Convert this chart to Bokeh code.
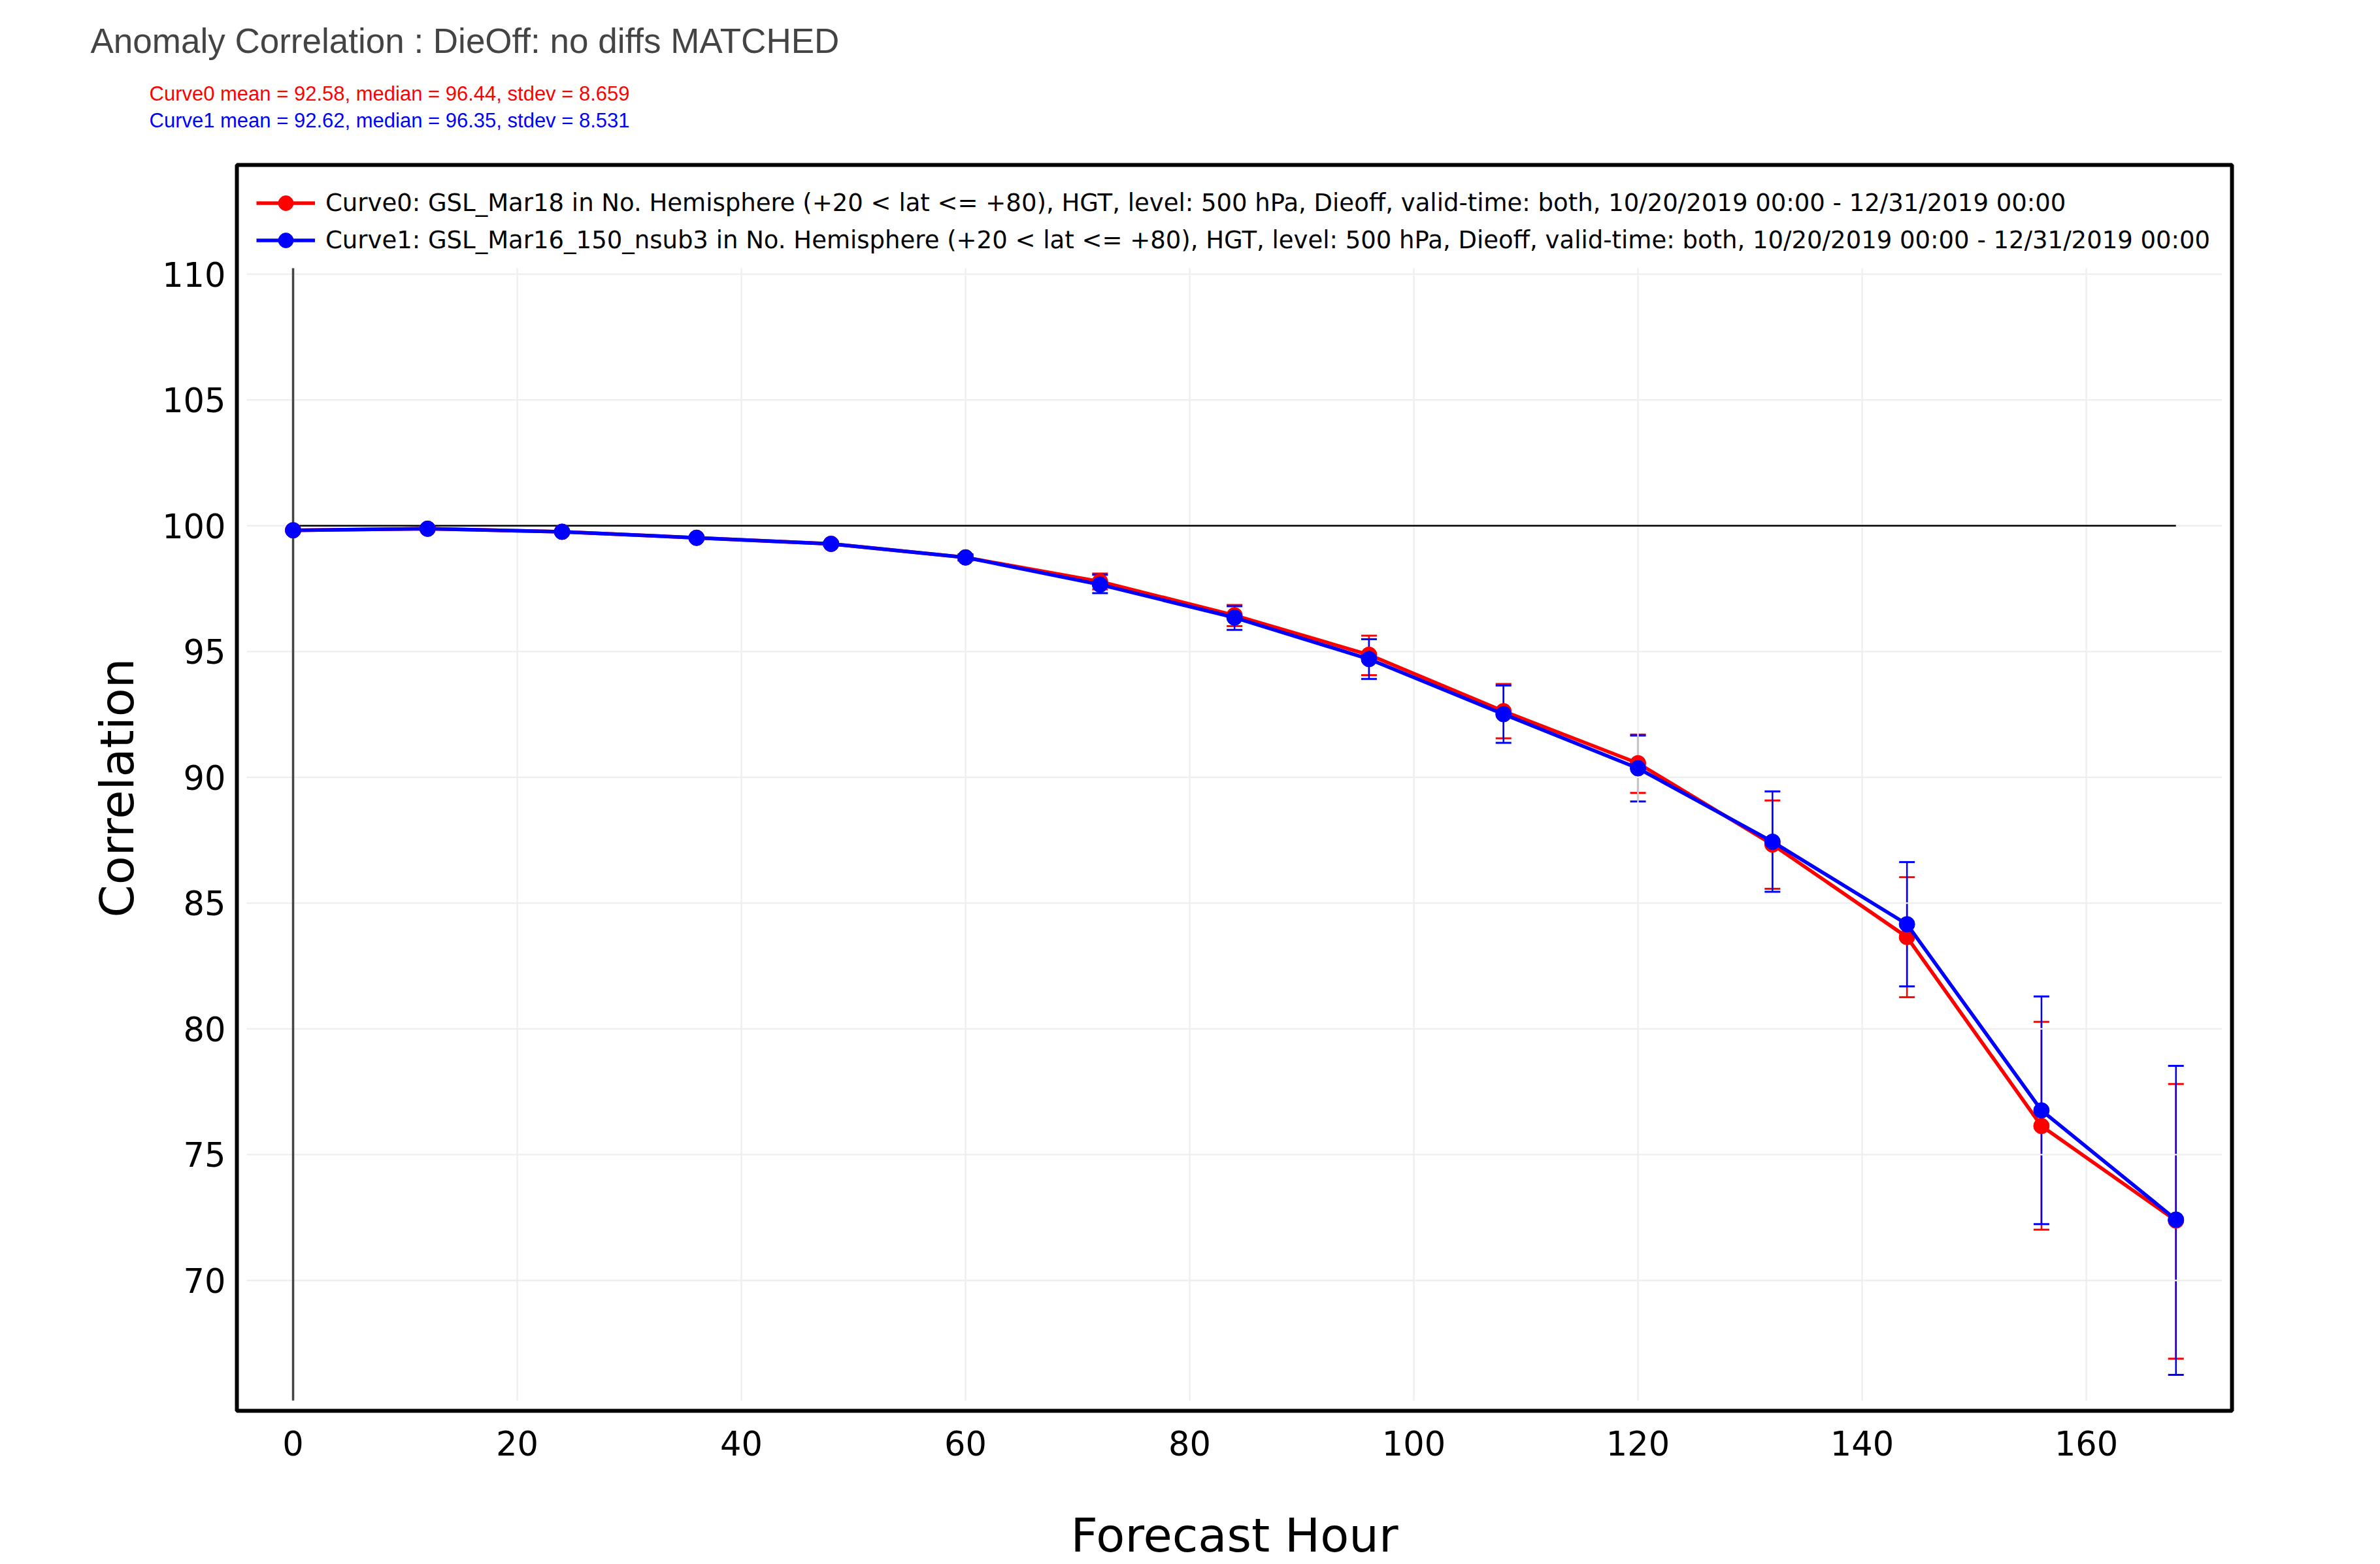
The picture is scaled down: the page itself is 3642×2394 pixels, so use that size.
from bokeh.plotting import figure
from bokeh.models import (ColumnDataSource, Whisker, TeeHead, Legend, LegendItem,
                          Title, FixedTicker, Range1d)
from bokeh.embed import file_html
from bokeh.resources import INLINE

# ---------------- data ----------------
TITLE = "Anomaly Correlation : DieOff: no diffs MATCHED"
STATS = ["Curve0 mean = 92.58, median = 96.44, stdev = 8.659",
         "Curve1 mean = 92.62, median = 96.35, stdev = 8.531"]
LABELS = ["Curve0: GSL_Mar18 in No. Hemisphere (+20 < lat <= +80), HGT, level: 500 hPa, Dieoff, valid-time: both, 10/20/2019 00:00 - 12/31/2019 00:00",
          "Curve1: GSL_Mar16_150_nsub3 in No. Hemisphere (+20 < lat <= +80), HGT, level: 500 hPa, Dieoff, valid-time: both, 10/20/2019 00:00 - 12/31/2019 00:00"]
X_TITLE = "Forecast Hour"
Y_TITLE = "Correlation"

hours = [0, 12, 24, 36, 48, 60, 72, 84, 96, 108, 120, 132, 144, 156, 168]

curve0 = [99.82, 99.88, 99.76, 99.52, 99.28, 98.74, 97.78, 96.44, 94.87, 92.63, 90.56, 87.33, 83.65, 76.14, 72.38]
curve0_lo = [99.79, 99.85, 99.72, 99.46, 99.20, 98.62, 97.47, 96.01, 94.06, 91.55, 89.38, 85.57, 81.26, 72.02, 66.89]
curve0_hi = [99.85, 99.91, 99.80, 99.58, 99.36, 98.86, 98.10, 96.85, 95.63, 93.71, 91.70, 89.08, 86.03, 80.28, 77.81]

curve1 = [99.82, 99.88, 99.76, 99.52, 99.28, 98.74, 97.66, 96.35, 94.70, 92.51, 90.36, 87.44, 84.16, 76.76, 72.42]
curve1_lo = [99.79, 99.85, 99.72, 99.46, 99.20, 98.62, 97.32, 95.86, 93.91, 91.37, 89.04, 85.45, 81.69, 72.24, 66.25]
curve1_hi = [99.85, 99.91, 99.80, 99.58, 99.36, 98.86, 98.05, 96.80, 95.49, 93.65, 91.66, 89.44, 86.63, 81.29, 78.53]

ideal_x = [0, 168]
ideal_y = [100, 100]

x_ticks = [0, 20, 40, 60, 80, 100, 120, 140, 160]
y_ticks = [70, 75, 80, 85, 90, 95, 100, 105, 110]

# ---------------- layout constants ----------------
W, H = 3642, 2394
FL, FR, FT, FB = 362, 3415, 246, 2166       # black frame (screen px)
X_RANGE = (-5.015, 173.0)
Y_RANGE = (64.82, 114.34)
PX = (-4.14, 172.1)                          # plotting area (grid extent)
PY = (65.23, 110.24)

RED, BLUE = "#ff0000", "#0000ff"
VFONT = "DejaVu Sans"
AFONT = "Liberation Sans"

p = figure(width=W, height=H, output_backend="svg", toolbar_location=None,
           x_range=Range1d(*X_RANGE), y_range=Range1d(*Y_RANGE),
           min_border_left=FL, min_border_right=W - FR,
           min_border_top=FT, min_border_bottom=H - FB)
p.title = None
p.background_fill_color = "white"
p.border_fill_color = "white"
p.outline_line_color = "black"
p.outline_line_width = 6
p.xgrid.visible = False
p.ygrid.visible = False

# axes
for ax in (p.xaxis[0], p.yaxis[0]):
    ax.axis_line_color = None
    ax.major_tick_line_color = None
    ax.minor_tick_line_color = None
    ax.major_tick_out = 0
    ax.major_tick_in = 0
    ax.major_label_text_font = VFONT
    ax.major_label_text_font_size = "51px"
    ax.major_label_text_color = "black"
    ax.axis_label_text_font = VFONT
    ax.axis_label_text_font_size = "72px"
    ax.axis_label_text_font_style = "normal"
    ax.axis_label_text_color = "black"
p.xaxis.ticker = FixedTicker(ticks=x_ticks)
p.yaxis.ticker = FixedTicker(ticks=y_ticks)
p.xaxis.axis_label = X_TITLE
p.yaxis.axis_label = Y_TITLE
p.xaxis.major_label_standoff = 30
p.yaxis.major_label_standoff = 17
p.xaxis.axis_label_standoff = 77
p.yaxis.axis_label_standoff = 24

# grid lines restricted to the plotting area
p.segment(x0=x_ticks, y0=[PY[0]] * len(x_ticks), x1=x_ticks, y1=[PY[1]] * len(x_ticks),
          line_color="#eeeeee", line_width=2.3)
p.segment(x0=[PX[0]] * len(y_ticks), y0=y_ticks, x1=[PX[1]] * len(y_ticks), y1=y_ticks,
          line_color="#eeeeee", line_width=2.3)
# x zero line
p.segment(x0=[0], y0=[PY[0]], x1=[0], y1=[PY[1]], line_color="#444444", line_width=3.5)
# ideal line
p.line(ideal_x, ideal_y, line_color="black", line_width=2.5)

renderers = []
for ys, lo, hi, col in ((curve0, curve0_lo, curve0_hi, RED), (curve1, curve1_lo, curve1_hi, BLUE)):
    src = ColumnDataSource(dict(x=hours, y=ys, lo=lo, hi=hi))
    w = Whisker(base="x", lower="lo", upper="hi", source=src,
                line_color=col, line_width=2.5,
                upper_head=TeeHead(size=24, line_color=col, line_width=3),
                lower_head=TeeHead(size=24, line_color=col, line_width=3))
    p.add_layout(w)
    rl = p.line("x", "y", source=src, line_color=col, line_width=5.5)
    rp = p.scatter("x", "y", source=src, size=24, fill_color=col, line_color=col)
    renderers.append((rl, rp))

legend = Legend(items=[LegendItem(label=LABELS[i], renderers=list(renderers[i])) for i in range(2)],
                location="top_left", margin=30, padding=0, spacing=0,
                glyph_width=90, glyph_height=57, label_height=57, label_standoff=16,
                label_text_font=VFONT, label_text_font_size="37px", label_text_color="black",
                background_fill_alpha=0, border_line_color=None)
p.add_layout(legend)

# white-on-white spacer between the frame and the stats lines
p.add_layout(Title(text="|", align="left", standoff=12, text_font=AFONT,
                   text_font_size="31px", text_color="#ffffff"), "above")

# titles above the frame (first added sits nearest the frame)
p.add_layout(Title(text=STATS[1], align="left", offset=228 - FL, standoff=4,
                   text_font=AFONT, text_font_size="31px", text_font_style="normal",
                   text_color=BLUE), "above")
p.add_layout(Title(text=STATS[0], align="left", offset=228 - FL, standoff=4,
                   text_font=AFONT, text_font_size="31px", text_font_style="normal",
                   text_color=RED), "above")
p.add_layout(Title(text=TITLE, align="left", offset=138 - FL, standoff=60,
                   text_font=AFONT, text_font_size="53px", text_font_style="normal",
                   text_color="#444444"), "above")

open("out.html", "w").write(file_html(p, INLINE))
